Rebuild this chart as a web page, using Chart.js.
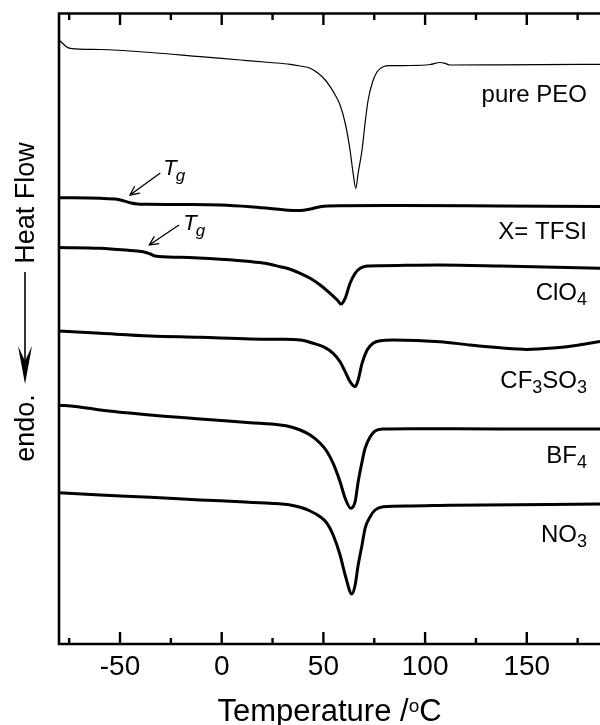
<!DOCTYPE html>
<html>
<head>
<meta charset="utf-8">
<script src="https://cdn.jsdelivr.net/npm/chart.js@4/dist/chart.umd.min.js"></script>
<style>
  html, body { margin: 0; padding: 0; background: #fff; }
  canvas { display: block; }
</style>
</head>
<body>
<canvas id="c" width="600" height="725" style="width:600px;height:725px"></canvas>
<script>
// ---- Data (temperature in °C, heat flow in arbitrary units, curves offset) ----
const peoT = [-80, -78.4, -76.4, -74.4, -59.7, -35.1, -10.6, 9.1, 23.8, 33.7, 38.6, 43.5, 47.4, 50.9, 53.3, 55.8, 58.2, 60.7, 63.1, 64.6, 65.9, 67.1, 69.0, 70.5, 72.0, 74.0, 76.4, 79.4, 82.8, 92.6, 102.4, 107.3, 109.8, 112.3, 136.9, 186];
const peoHF = [604, 601, 597.3, 595.7, 594.5, 591.5, 587.3, 584, 581.5, 579.7, 578, 575.7, 570.7, 564, 557.3, 549, 539, 521, 494, 471, 455.7, 471, 494, 521, 544, 561, 572.3, 577.3, 578.3, 578.5, 579.5, 581.5, 580.7, 579, 579.2, 579.7];

const tfsiT = [-80, -59.7, -51.4, -48.4, -45.0, -41.5, -36.6, -20.4, -0.7, 14.0, 23.8, 31.2, 38.6, 43.5, 48.4, 58.2, 87.7, 136.9, 186];
const tfsiHF = [446.3, 445.7, 444.7, 443.3, 441.3, 440, 439.7, 439.5, 439, 437.3, 435.5, 434, 433.5, 435, 437.3, 438.3, 438.5, 438, 437.5];

const clo4T = [-80, -59.7, -45.0, -38.6, -35.1, -32.7, -20.4, -0.7, 14.0, 21.4, 28.7, 33.7, 38.6, 43.5, 48.4, 53.3, 56.8, 58.6, 60.7, 63.1, 65.6, 68.1, 71.5, 77.9, 107.3, 136.9, 186];
const clo4HF = [396.5, 395.7, 393.5, 392.3, 390, 388, 386.7, 384.7, 382.5, 380.7, 377.3, 374.7, 370.7, 365.7, 359, 350.7, 344, 340, 345.7, 360.7, 370.7, 375.7, 378, 378.3, 379, 378, 375.7];

const cf3so3T = [-80, -59.7, -35.1, -10.6, 14.0, 28.7, 38.6, 45.0, 49.9, 54.8, 58.2, 60.7, 63.1, 65.6, 67.1, 69.0, 71.5, 74.4, 77.9, 84.3, 107.3, 122.1, 136.9, 150.0, 163.0, 175.0, 186];
const cf3so3HF = [313, 310.7, 308, 306.7, 305, 304.7, 304, 300.7, 297.3, 290.7, 282.3, 272.3, 262.3, 257.3, 264, 280.7, 294, 300.7, 303.3, 304, 302.3, 299, 296.2, 294.6, 296.0, 298.8, 302.5];

const bf4T = [-80, -72.0, -59.7, -35.1, -10.6, 14.0, 28.7, 33.7, 38.6, 43.5, 48.4, 51.8, 54.8, 58.2, 60.7, 63.5, 65.6, 67.1, 69.0, 70.5, 73.0, 75.4, 79.4, 92.6, 136.9, 186];
const bf4HF = [238.8, 237.6, 234, 229, 225, 221.3, 219, 217.3, 214, 209, 200.7, 192.3, 180.7, 162.3, 145.7, 135.7, 142.3, 162.3, 182.3, 195.7, 207.3, 213, 215, 215.3, 215, 215];

const no3T = [-80, -59.7, -35.1, -10.6, 9.1, 23.8, 33.7, 38.6, 43.5, 48.4, 51.8, 54.8, 58.2, 60.7, 64.0, 65.6, 67.1, 69.0, 70.5, 73.0, 75.4, 79.4, 92.6, 112.3, 186];
const no3HF = [151.3, 149, 146.7, 144, 142.3, 140.7, 139, 136.7, 133, 127.3, 120.7, 109, 89, 69, 50, 59, 79, 99, 115.7, 127.3, 134, 137.3, 138, 138.7, 140];

const xTickLabels = [-50, 0, 50, 100, 150];
const xMinorTicks = [-75, -25, 25, 75, 125, 175];

// curve labels: [text parts, anchor temperature (right edge), anchor heat-flow (baseline)]
const curveLabels = [
  [[["pure PEO", 0]], 179.6, 542],
  [[["X= TFSI", 0]], 179.6, 405],
  [[["ClO", 0], ["4", 1]], 179.6, 344],
  [[["CF", 0], ["3", 1], ["SO", 0], ["3", 1]], 179.6, 256],
  [[["BF", 0], ["4", 1]], 179.6, 181],
  [[["NO", 0], ["3", 1]], 179.6, 102]
];
// Tg annotations: arrow tail (T, HF), arrow tip (T, HF), label position (T, HF)
const tgNotes = [
  [[-30.2, 471], [-45.1, 449], [-28.7, 469]],
  [[-21.0, 419], [-35.6, 399], [-18.9, 414]]
];

const FONT = '"Liberation Sans", Arial, Helvetica, sans-serif';

function series(T, HF, w) {
  return {
    data: T.map((t, i) => ({ x: t, y: HF[i] })),
    borderColor: '#000',
    borderWidth: w,
    pointRadius: 0,
    fill: false,
    cubicInterpolationMode: 'monotone'
  };
}

function drawParts(ctx, parts, x, y, align, base, sub, subDy) {
  let total = 0;
  const ws = parts.map(p => {
    ctx.font = (p[1] ? sub : base) + 'px ' + FONT;
    const w = ctx.measureText(p[0]).width;
    total += w;
    return w;
  });
  let cx = align === 'right' ? x - total : (align === 'center' ? x - total / 2 : x);
  ctx.textAlign = 'left';
  ctx.textBaseline = 'alphabetic';
  parts.forEach((p, i) => {
    ctx.font = (p[1] ? sub : base) + 'px ' + FONT;
    ctx.fillText(p[0], cx, y + (p[1] ? subDy : 0));
    cx += ws[i];
  });
}

function arrow(ctx, x1, y1, x2, y2, head) {
  const a = Math.atan2(y2 - y1, x2 - x1);
  ctx.beginPath();
  ctx.moveTo(x1, y1);
  ctx.lineTo(x2, y2);
  ctx.moveTo(x2 - head * Math.cos(a - 0.45), y2 - head * Math.sin(a - 0.45));
  ctx.lineTo(x2, y2);
  ctx.lineTo(x2 - head * Math.cos(a + 0.45), y2 - head * Math.sin(a + 0.45));
  ctx.stroke();
}

const decor = {
  id: 'decor',
  afterDraw(chart) {
    const ctx = chart.ctx;
    const xs = chart.scales.x, ys = chart.scales.y;
    const ca = chart.chartArea;
    ctx.save();
    ctx.strokeStyle = '#000';
    ctx.fillStyle = '#000';
    // frame
    ctx.lineWidth = 2.6;
    ctx.lineCap = 'butt';
    ctx.beginPath();
    ctx.moveTo(ca.right, ca.top + 0.5);
    ctx.lineTo(ca.left, ca.top + 0.5);
    ctx.lineTo(ca.left, ca.bottom);
    ctx.lineTo(ca.right, ca.bottom);
    ctx.stroke();
    // ticks
    ctx.lineWidth = 2.4;
    ctx.beginPath();
    xTickLabels.forEach(v => {
      const px = xs.getPixelForValue(v);
      ctx.moveTo(px, ca.bottom); ctx.lineTo(px, ca.bottom - 12);
      ctx.moveTo(px, ca.top); ctx.lineTo(px, ca.top + 12);
    });
    xMinorTicks.forEach(v => {
      const px = xs.getPixelForValue(v);
      ctx.moveTo(px, ca.bottom); ctx.lineTo(px, ca.bottom - 6);
      ctx.moveTo(px, ca.top); ctx.lineTo(px, ca.top + 7);
    });
    ctx.stroke();

    // x title with superscript
    const xt = [["Temperature /", 31, 0], ["o", 19, -9], ["C", 31, 0]];
    let tot = 0;
    const w = xt.map(p => { ctx.font = p[1] + 'px ' + FONT; const m = ctx.measureText(p[0]).width; tot += m; return m; });
    let cx = (ca.left + ca.right) / 2 - tot / 2;
    ctx.textAlign = 'left'; ctx.textBaseline = 'alphabetic';
    xt.forEach((p, i) => { ctx.font = p[1] + 'px ' + FONT; ctx.fillText(p[0], cx, 721 + p[2]); cx += w[i]; });

    // y title: "endo. <-- Heat Flow" rotated
    ctx.font = '27px ' + FONT;
    ctx.textAlign = 'center';
    ctx.save(); ctx.translate(34, 203); ctx.rotate(-Math.PI / 2); ctx.fillText('Heat Flow', 0, 0); ctx.restore();
    ctx.save(); ctx.translate(34, 428); ctx.rotate(-Math.PI / 2); ctx.fillText('endo.', 0, 0); ctx.restore();
    ctx.lineWidth = 1.6;
    ctx.beginPath(); ctx.moveTo(25, 272); ctx.lineTo(25, 365); ctx.stroke();
    ctx.beginPath();
    ctx.moveTo(25, 384); ctx.lineTo(18, 346); ctx.lineTo(25, 361); ctx.lineTo(32, 346); ctx.closePath();
    ctx.fill();

    // curve labels
    curveLabels.forEach(l => {
      drawParts(ctx, l[0], xs.getPixelForValue(l[1]), ys.getPixelForValue(l[2]), 'right', 24, 18, 5);
    });

    // Tg annotations
    ctx.lineWidth = 1.3;
    tgNotes.forEach(n => {
      const x1 = xs.getPixelForValue(n[0][0]), y1 = ys.getPixelForValue(n[0][1]);
      const x2 = xs.getPixelForValue(n[1][0]), y2 = ys.getPixelForValue(n[1][1]);
      arrow(ctx, x1, y1, x2, y2, 10);
      const lx = xs.getPixelForValue(n[2][0]), ly = ys.getPixelForValue(n[2][1]);
      ctx.textAlign = 'left';
      ctx.font = 'italic 22px ' + FONT;
      ctx.fillText('T', lx, ly);
      const tw = ctx.measureText('T').width;
      ctx.font = 'italic 17px ' + FONT;
      ctx.fillText('g', lx + tw - 1, ly + 6);
    });
    ctx.restore();
  }
};

new Chart(document.getElementById('c'), {
  type: 'line',
  data: {
    datasets: [
      series(peoT, peoHF, 1.2),
      series(tfsiT, tfsiHF, 3),
      series(clo4T, clo4HF, 3),
      series(cf3so3T, cf3so3HF, 3),
      series(bf4T, bf4HF, 3),
      series(no3T, no3HF, 3)
    ]
  },
  options: {
    responsive: false,
    animation: false,
    devicePixelRatio: 1,
    layout: { padding: { left: 59, right: 0, top: 13, bottom: 35.4 } },
    plugins: { legend: { display: false }, tooltip: { enabled: false } },
    scales: {
      x: {
        type: 'linear', min: -80, max: 186, position: 'bottom',
        afterBuildTicks: s => { s.ticks = xTickLabels.map(v => ({ value: v })); },
        grid: { display: false, drawTicks: false, tickLength: 0 },
        border: { display: false },
        ticks: { font: { family: FONT, size: 28 }, color: '#000', padding: 6, maxRotation: 0, autoSkip: false }
      },
      y: { type: 'linear', min: 0, max: 631, display: false }
    }
  },
  plugins: [decor]
});
</script>
</body>
</html>
